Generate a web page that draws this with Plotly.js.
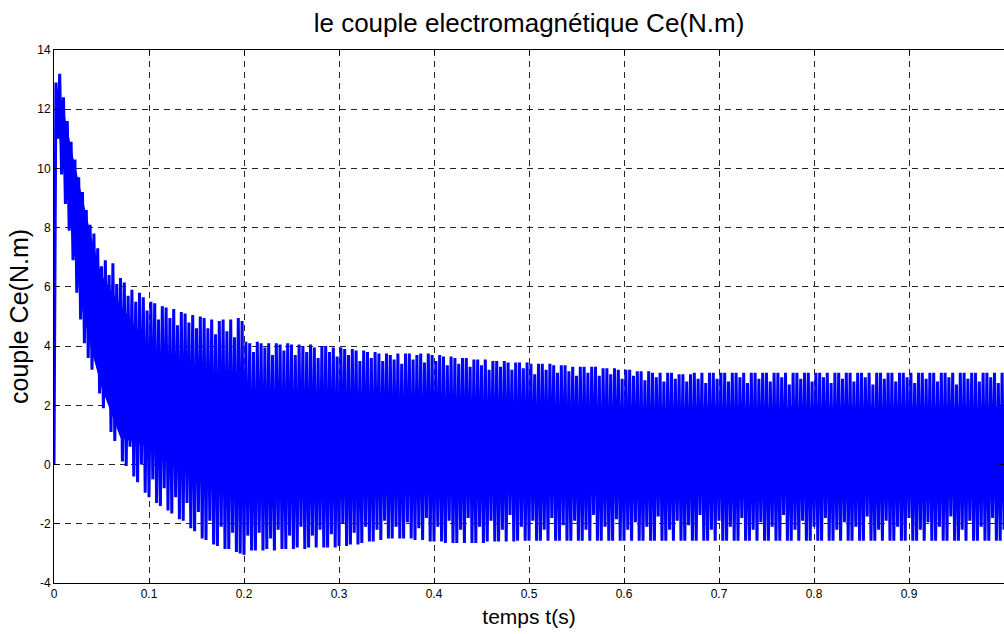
<!DOCTYPE html>
<html>
<head>
<meta charset="utf-8">
<script src="https://cdn.plot.ly/plotly-3.0.1.min.js"></script>
<style>
  html, body { margin: 0; padding: 0; background: #fff; }
  #chart { width: 1004px; height: 634px; }
</style>
</head>
<body>
<div id="chart"></div>
<script>
// ---- data ----
const titleText = 'le couple electromagnétique Ce(N.m)';
const xTitleText = 'temps t(s)';
const yTitleText = 'couple Ce(N.m)';

const startTime = 0;          // s
const halfPeriod = 0.002;     // s between a peak and the next trough
const startTorque = 0;        // N.m at t = 0

// successive maxima of the torque oscillation (N.m), one every 0.004 s starting at t = 0.002 s
const upperPeaks = [
  12.9, 13.2, 12.4, 11.6, 10.9, 10.3, 9.7, 9.2, 8.6, 8.1,
  7.8, 7.3, 6.7, 6.9, 6.4, 6.8, 6.1, 6.3, 6.15, 5.7,
  5.9, 5.5, 5.8, 5.65, 5.2, 5.5, 5.45, 4.9, 5.35, 5.3,
  4.95, 5.25, 4.7, 5.15, 5.1, 4.8, 5.05, 4.6, 5.0, 4.95,
  4.6, 4.9, 4.4, 4.85, 4.9, 4.5, 4.9, 4.3, 4.95, 4.85,
  4.15, 4.1, 3.8, 4.15, 4.1, 3.95, 4.1, 3.7, 4.1, 4.05,
  3.85, 4.1, 4.05, 3.7, 4.05, 4.0, 3.8, 4.05, 3.95, 3.6,
  4.0, 4.0, 3.8, 3.95, 3.65, 3.95, 3.9, 3.7, 3.9, 3.85,
  3.5, 3.85, 3.8, 3.6, 3.8, 3.75, 3.5, 3.75, 3.7, 3.55,
  3.75, 3.4, 3.75, 3.75, 3.55, 3.7, 3.75, 3.45, 3.75, 3.7,
  3.5, 3.7, 3.65, 3.35, 3.65, 3.6, 3.4, 3.6, 3.6, 3.3,
  3.55, 3.55, 3.35, 3.55, 3.2, 3.5, 3.5, 3.3, 3.5, 3.45,
  3.2, 3.45, 3.45, 3.25, 3.45, 3.4, 3.05, 3.4, 3.4, 3.2,
  3.4, 3.35, 3.1, 3.35, 3.35, 3.15, 3.3, 3.0, 3.3, 3.3,
  3.1, 3.3, 3.3, 3.0, 3.25, 3.25, 3.05, 3.25, 3.2, 2.9,
  3.2, 3.2, 3.0, 3.15, 3.15, 2.85, 3.15, 3.1, 2.95, 3.1,
  2.8, 3.1, 3.1, 2.9, 3.05, 3.05, 2.8, 3.05, 3.1, 2.9,
  3.1, 2.75, 3.1, 3.1, 2.9, 3.1, 3.1, 2.8, 3.1, 3.1,
  2.95, 3.1, 2.75, 3.1, 3.1, 2.9, 3.1, 3.1, 2.8, 3.1,
  3.1, 2.95, 3.1, 2.7, 3.1, 3.1, 2.9, 3.1, 3.1, 2.8,
  3.1, 3.1, 2.95, 3.1, 2.75, 3.1, 3.1, 2.9, 3.1, 3.1,
  2.8, 3.1, 3.1, 2.95, 3.1, 2.7, 3.1, 3.1, 2.9, 3.1,
  3.1, 2.8, 3.1, 3.1, 2.95, 3.1, 2.75, 3.1, 3.1, 2.9,
  3.1, 3.1, 2.8, 3.1, 3.1, 2.95, 3.1, 2.7, 3.1, 3.1,
  2.9, 3.1, 3.1, 2.8, 3.1, 3.1, 2.95, 3.1, 2.75, 3.1
];

// successive minima of the torque oscillation (N.m), one every 0.004 s starting at t = 0.004 s
const lowerPeaks = [
  11.0, 9.8, 8.8, 7.9, 6.9, 5.8, 4.9, 4.1, 3.6, 3.2,
  3.5, 2.4, 1.9, 2.4, 1.1, 0.8, 1.3, 0.1, -0.05, 0.6,
  -0.4, -0.6, 0.0, -0.95, -1.1, -0.5, -1.3, -1.4, -0.8, -1.55,
  -1.65, -1.1, -1.85, -1.9, -1.3, -2.15, -2.25, -1.6, -2.5, -2.55,
  -1.9, -2.7, -2.75, -2.1, -2.85, -2.85, -2.3, -2.95, -3.0, -3.05,
  -2.4, -2.9, -2.9, -2.3, -2.9, -2.85, -2.5, -2.9, -2.2, -2.85,
  -2.85, -2.4, -2.85, -2.8, -2.1, -2.85, -2.8, -2.4, -2.8, -2.2,
  -2.8, -2.8, -2.35, -2.8, -2.75, -2.0, -2.75, -2.7, -2.3, -2.7,
  -2.65, -2.1, -2.6, -2.6, -2.2, -2.55, -1.9, -2.5, -2.5, -2.1,
  -2.5, -2.5, -1.95, -2.5, -2.55, -2.15, -2.55, -1.8, -2.6, -2.6,
  -2.1, -2.6, -2.65, -1.9, -2.65, -2.65, -2.2, -2.65, -1.8, -2.65,
  -2.65, -2.1, -2.65, -2.6, -1.9, -2.6, -2.6, -2.2, -2.6, -1.7,
  -2.6, -2.57, -2.1, -2.57, -2.57, -1.9, -2.57, -2.57, -2.2, -2.57,
  -1.8, -2.57, -2.57, -2.05, -2.57, -2.57, -1.9, -2.57, -2.57, -2.2,
  -2.57, -1.7, -2.57, -2.57, -2.1, -2.57, -2.57, -1.85, -2.57, -2.57,
  -2.2, -2.57, -1.95, -2.57, -2.57, -2.1, -2.57, -2.57, -1.75, -2.57,
  -2.57, -2.2, -2.57, -1.9, -2.57, -2.57, -2.05, -2.57, -2.57, -1.7,
  -2.57, -2.57, -2.2, -2.57, -1.9, -2.57, -2.57, -2.1, -2.57, -2.57,
  -1.8, -2.57, -2.57, -2.2, -2.57, -1.95, -2.57, -2.57, -2.1, -2.57,
  -2.57, -1.7, -2.57, -2.57, -2.2, -2.57, -1.9, -2.57, -2.57, -2.1,
  -2.57, -2.57, -1.8, -2.57, -2.57, -2.2, -2.57, -1.95, -2.57, -2.57,
  -2.1, -2.57, -2.57, -1.75, -2.57, -2.57, -2.2, -2.57, -1.9, -2.57,
  -2.57, -2.1, -2.57, -2.57, -1.8, -2.57, -2.57, -2.2, -2.57, -1.95,
  -2.57, -2.57, -2.1, -2.57, -2.57, -1.75, -2.57, -2.57, -2.2, -2.57,
  -1.9, -2.57, -2.57, -2.1, -2.57, -2.57, -1.8, -2.57, -2.57, -2.2
];

// densely overlapped (solid) part of the oscillation band
const coreTimes = [0.002, 0.005, 0.01, 0.02, 0.03, 0.04, 0.05, 0.07, 0.1, 0.125, 0.15, 0.175, 0.2, 0.25, 0.3, 0.35, 0.4, 0.5, 0.6, 0.7, 0.8, 0.9, 1.0];
const coreUpper = [12.0, 12.8, 12.0, 10.4, 9.0, 7.6, 6.4, 5.4, 4.0, 3.5, 3.0, 2.6, 2.1, 2.1, 2.1, 2.1, 2.1, 2.0, 1.95, 1.95, 1.95, 1.95, 1.95];
const coreLower = [11.5, 11.2, 10.0, 7.4, 5.2, 3.8, 2.6, 0.9, 0.6, 0.8, 0.9, 0.6, 0.2, 0.1, 0.0, -0.2, -0.3, -0.4, -0.5, -0.5, -0.5, -0.5, -0.5];

const xRange = [0, 1];
const yRange = [-4, 14];
const xTickValues = [0, 0.1, 0.2, 0.3, 0.4, 0.5, 0.6, 0.7, 0.8, 0.9];
const xTickLabels = ['0', '0.1', '0.2', '0.3', '0.4', '0.5', '0.6', '0.7', '0.8', '0.9'];
const yTickValues = [-4, -2, 0, 2, 4, 6, 8, 10, 12, 14];
const yTickLabels = ['-4', '-2', '0', '2', '4', '6', '8', '10', '12', '14'];

// ---- build the signal: start value, then peak / trough alternately ----
const torque = [startTorque];
for (let i = 0; i < upperPeaks.length; i++) {
  torque.push(upperPeaks[i]);
  if (i < lowerPeaks.length) torque.push(lowerPeaks[i]);
}

const FONT = 'Liberation Sans, Arial, Helvetica, sans-serif';
const BLUE = '#0000ff';

const coreLowerTrace = {
  type: 'scatter', mode: 'lines',
  x: coreTimes, y: coreLower,
  line: { color: BLUE, width: 0 },
  hoverinfo: 'skip', showlegend: false
};
const coreUpperTrace = {
  type: 'scatter', mode: 'lines',
  x: coreTimes, y: coreUpper,
  line: { color: BLUE, width: 0 },
  fill: 'tonexty', fillcolor: BLUE,
  hoverinfo: 'skip', showlegend: false
};

const signalTrace = {
  type: 'scatter',
  mode: 'lines',
  x0: startTime,
  dx: halfPeriod,
  y: torque,
  line: { color: BLUE, width: 3.0, simplify: false },
  hoverinfo: 'x+y',
  showlegend: false
};

const axisCommon = {
  showline: true,
  linecolor: '#000',
  linewidth: 1,
  mirror: 'ticks',
  ticks: 'inside',
  ticklen: 5,
  tickcolor: '#000',
  tickfont: { family: FONT, size: 12, color: '#000' },
  showgrid: true,
  gridcolor: '#262626',
  gridwidth: 1,
  griddash: '6px,5px',
  zeroline: false,
  fixedrange: true
};

const layout = {
  width: 1004,
  height: 634,
  margin: { l: 54, r: 0, t: 50, b: 51, pad: 0 },
  paper_bgcolor: '#fff',
  plot_bgcolor: '#fff',
  title: {
    text: titleText,
    font: { family: FONT, size: 26, color: '#000' },
    x: 0.5, xref: 'paper', xanchor: 'center',
    y: 0.964, yref: 'container', yanchor: 'middle'
  },
  xaxis: Object.assign({}, axisCommon, {
    range: xRange,
    tickmode: 'array',
    tickvals: xTickValues,
    ticktext: xTickLabels,
    title: { text: xTitleText, font: { family: FONT, size: 21, color: '#000' }, standoff: 8 }
  }),
  yaxis: Object.assign({}, axisCommon, {
    range: yRange,
    tickmode: 'array',
    tickvals: yTickValues,
    ticktext: yTickLabels,
    title: { text: yTitleText, font: { family: FONT, size: 25, color: '#000' }, standoff: 1 }
  })
};

Plotly.newPlot('chart', [coreLowerTrace, coreUpperTrace, signalTrace], layout, { displayModeBar: false, staticPlot: true });
</script>
</body>
</html>
